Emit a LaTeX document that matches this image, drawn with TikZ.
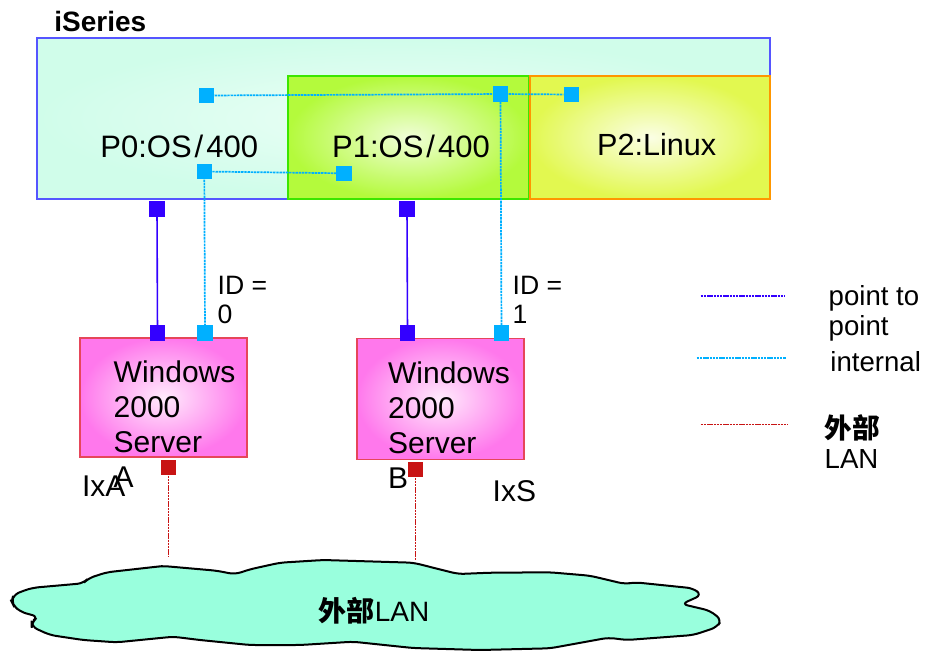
\documentclass[tikz,border=0pt]{standalone}
\usepackage{fontspec}
\setmainfont{Liberation Sans}
\newfontfamily\cjk{Noto Sans CJK SC}
\usepackage{xcolor}
\usetikzlibrary{positioning}

\definecolor{ptpblue}{RGB}{51,0,255}
\definecolor{intcyan}{RGB}{0,176,255}
\definecolor{lanred}{RGB}{200,20,20}
\definecolor{iedge}{RGB}{85,85,255}
\definecolor{imint}{RGB}{208,253,234}
\definecolor{pgreen}{RGB}{180,250,60}
\definecolor{pgedge}{RGB}{60,230,0}
\definecolor{pyellow}{RGB}{226,248,80}
\definecolor{pyedge}{RGB}{255,150,0}
\definecolor{winpink}{RGB}{255,120,236}
\definecolor{winedge}{RGB}{230,70,90}
\definecolor{lanfill}{RGB}{153,255,221}

\begin{document}
\begin{tikzpicture}[x=0.5pt, y=-0.5pt,
    port/.style = {rectangle, inner sep=0pt, minimum size=7.6pt},
    ptpport/.style = {port, fill=ptpblue},
    intport/.style = {port, fill=intcyan},
    lanport/.style = {port, fill=lanred},
    ptp/.style = {ptpblue, line width=0.8pt},
    internal/.style = {intcyan, line width=0.85pt, dash pattern=on 1.2pt off 0.4pt},
    extlan/.style = {lanred, line width=0.8pt, dash pattern=on 1.2pt off 0.4pt},
    lbl/.style = {inner sep=0pt, anchor=base west, align=left},
    winbox/.style = {draw=winedge, line width=0.8pt, inner color=white!85!winpink, outer color=winpink, inner sep=0pt}]
    \useasboundingbox (0,0) rectangle (937,650);

    % 分区
    \draw[iedge, line width=0.8pt, inner color=white!60!imint, outer color=imint] (37,38) rectangle (770,199);
    \draw[pgedge, line width=0.8pt, inner color=white!80!pgreen, outer color=pgreen] (288,76) rectangle (529,199);
    \draw[pyedge, line width=0.8pt, inner color=white!85!pyellow, outer color=pyellow] (530,76) rectangle (770,199);

    \node[lbl, font=\bfseries\fontsize{14}{16}\selectfont] (iseries) at (54,31.7) {iSeries};
    \node[lbl, font=\fontsize{15.5}{18}\selectfont] (p0) at (100,157.7) {P0:OS\kern1.5pt/\kern1.5pt400};
    \node[lbl, font=\fontsize{15.5}{18}\selectfont] (p1) at (331.7,157.7) {P1:OS\kern1.5pt/\kern1.5pt400};
    \node[lbl, font=\fontsize{15.3}{18}\selectfont] (p2) at (596.7,155) {P2:Linux};

    % 服务器
    \node[winbox, minimum width=83.5pt, minimum height=59.5pt] (winA) at (163.5,397.5) {};
    \node[winbox, minimum width=83.7pt, minimum height=60.5pt] (winB) at (440.5,398.8) {};
    \node[lbl, font=\fontsize{15}{17.5}\selectfont] (txtA) at (113.3,487) {Windows\\2000\\Server\\A};
    \node[lbl, font=\fontsize{15}{17.5}\selectfont] (txtB) at (387.7,488) {Windows\\2000\\Server\\B};
    \node[lbl, font=\fontsize{15}{17.5}\selectfont] (ixa) at (81.7,496.7) {IxA};
    \node[lbl, font=\fontsize{15}{17.5}\selectfont] (ixs) at (492.3,501.7) {IxS};

    % 端口
    \node[intport] (i1) at (206.5,95.5) {};
    \node[intport] (i2) at (500.5,94) {};
    \node[intport] (i3) at (571.3,94.5) {};
    \node[intport] (i4) at (204.3,171.5) {};
    \node[intport] (i5) at (344,173.3) {};
    \node[intport] (i6) at (205,333) {};
    \node[intport] (i7) at (501.5,333) {};
    \node[ptpport] (b1) at (157,209) {};
    \node[ptpport] (b2) at (157.5,333) {};
    \node[ptpport] (b3) at (407,209) {};
    \node[ptpport] (b4) at (407.5,333) {};
    \node[lanport] (r1) at (168.3,467.5) {};
    \node[lanport] (r2) at (415.3,469.5) {};

    \node[lbl, font=\fontsize{13.3}{14.5}\selectfont] (id0) at (217.3,323.3) {ID =\\0};
    \node[lbl, font=\fontsize{13.3}{14.5}\selectfont] (id1) at (512.3,323.3) {ID =\\1};

    % 连线
    \draw[internal] (i1) -- (i2);
    \draw[internal] (i2) -- (i3);
    \draw[internal] (i4) -- (i5);
    \draw[internal] (i4) -- (i6);
    \draw[internal] (i2) -- (i7);
    \draw[ptp] (b1) -- (b2);
    \draw[ptp] (b3) -- (b4);

    % 外部LAN
    \draw[line width=1pt, fill=lanfill, rounded corners=3pt]
        (11.7,601.7) -- (13.3,595) -- (23.3,590.7) -- (33.3,587.7) -- (83.3,583.3) -- (88.3,578.3)
        -- (106.7,572.3) -- (156.7,566.7) -- (163.3,566) -- (216.7,570.7) -- (235,574.3) -- (250,569.3)
        -- (280,562.7) -- (323.3,560) -- (413.3,562.7) -- (458.3,574) -- (490,572.7) -- (550,572.3)
        -- (590,575.7) -- (625,584) -- (635,582.3) -- (693.3,588.3) -- (701.7,595) -- (681.7,604)
        -- (710,610.7) -- (721.7,620) -- (716.7,627.3) -- (693.3,635) -- (626.7,640) -- (608.3,637.7)
        -- (550,648.3) -- (480,650) -- (413,648) -- (353,641.7) -- (300,645) -- (250,645)
        -- (200,640) -- (173.3,636.7) -- (116.7,642.3) -- (83.3,640) -- (50,635) -- (31.7,626.7)
        -- (31.7,621.7) -- (38.3,616.7) -- (20,611.7) -- (13.3,605) -- cycle;
    \node[font=\fontsize{14}{16}\selectfont, inner sep=0pt] (lan) at (374,611) {{\cjk\bfseries 外部}LAN};
    \coordinate (lanA) at (168.3,556);
    \coordinate (lanB) at (415.3,560);
    \draw[extlan] (r1) -- (lanA);
    \draw[extlan] (r2) -- (lanB);

    % 图例
    \coordinate (kb1) at (700.7,296);
    \coordinate (kb2) at (784,296);
    \coordinate (kc1) at (696.7,358.3);
    \coordinate (kc2) at (786,358.3);
    \coordinate (kr1) at (700.7,424.3);
    \coordinate (kr2) at (787.7,424.3);
    \draw[ptp, line width=0.7pt, dash pattern=on 1.2pt off 0.4pt] (kb1) -- (kb2);
    \draw[internal] (kc1) -- (kc2);
    \draw[extlan] (kr1) -- (kr2);
    \node[lbl, font=\fontsize{13.8}{15}\selectfont] (kptp) at (828.3,335) {point to\\point};
    \node[lbl, font=\fontsize{13.8}{15}\selectfont] (kint) at (830,371.7) {internal};
    \node[lbl, font=\fontsize{13.8}{15}\selectfont] (klan) at (824.3,468.3) {{\cjk\bfseries 外部}\\LAN};
\end{tikzpicture}
\end{document}
